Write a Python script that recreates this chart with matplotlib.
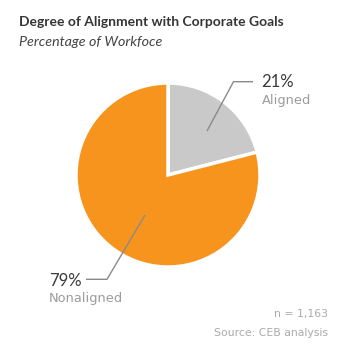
import matplotlib
matplotlib.use("Agg")
import matplotlib.pyplot as plt

# Chart data
categories = ["Aligned", "Nonaligned"]
shares = [21, 79]
slice_colors = ["#c9c9c9", "#f7941e"]
title = "Degree of Alignment with Corporate Goals"
subtitle = "Percentage of Workfoce"
sample_note = "n = 1,163"
source_note = "Source: CEB analysis"

W, H = 349, 348
fig = plt.figure(figsize=(W / 100, H / 100), dpi=100)
ax = fig.add_axes([0, 0, 1, 1])

def Y(y):
    # pixel row measured from the top
    return H - y

ax.pie(shares, colors=slice_colors, startangle=90, counterclock=False,
       center=(168, Y(175)), radius=92, frame=True,
       wedgeprops=dict(edgecolor="white", linewidth=2.5))
ax.set_xlim(0, W)
ax.set_ylim(0, H)
ax.axis("off")

head_font = "Lato"
body_font = "DejaVu Sans"
ax.text(19, Y(25.5), title, fontsize=10, fontweight="bold", color="#353535",
        family=head_font, va="baseline")
ax.text(19, Y(46), subtitle, fontsize=10.3, style="italic", color="#444444",
        family=head_font, va="baseline")

# Leader lines
line_kw = dict(color="#8a8a8a", lw=1.0, solid_capstyle="butt")
ax.plot([207, 233.5, 253], [Y(131), Y(81.7), Y(81.7)], **line_kw)
ax.plot([145, 107, 86], [Y(215), Y(279.3), Y(279.3)], **line_kw)

# Slice labels
ax.text(261.5, Y(87.3), f"{shares[0]}%", fontsize=12, color="#3a3a3a",
        family=head_font, va="baseline")
ax.text(261.5, Y(104), categories[0], fontsize=9.4, color="#9c9c9c",
        family=body_font, va="baseline")
ax.text(49, Y(286), f"{shares[1]}%", fontsize=12, color="#3a3a3a",
        family=head_font, va="baseline")
ax.text(49, Y(302), categories[1], fontsize=9.4, color="#9c9c9c",
        family=body_font, va="baseline")

# Notes
ax.text(327.5, Y(317.3), sample_note, fontsize=7.8, color="#aaaaaa",
        family=body_font, va="baseline", ha="right")
ax.text(327.5, Y(336), source_note, fontsize=7.8, color="#aaaaaa",
        family=body_font, va="baseline", ha="right")

fig.savefig("out.png", dpi=100)
